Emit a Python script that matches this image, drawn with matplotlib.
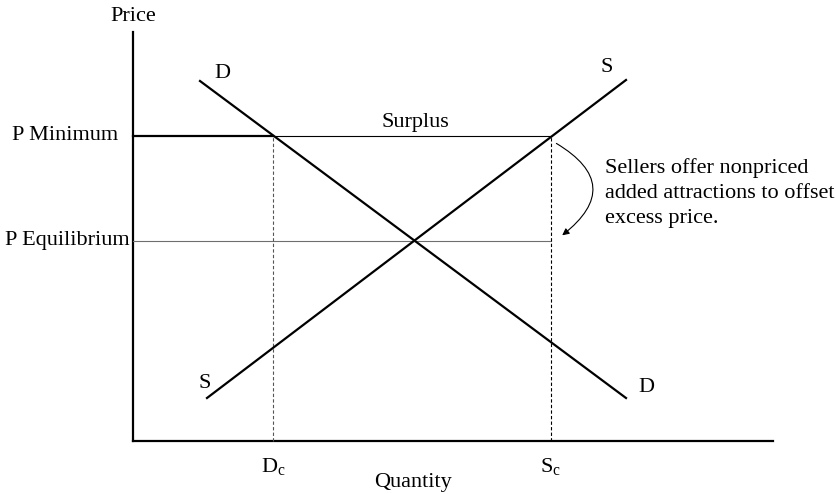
import matplotlib.pyplot as plt
from matplotlib.patches import FancyArrowPatch

plt.rcParams["font.family"] = ["Liberation Serif", "DejaVu Serif"]

# coordinates: quantity to the right, price upward, origin at the axes corner
demand_q = [67, 493]
demand_p = [360, 43]
supply_q = [74, 493]
supply_p = [43, 361]
p_minimum = 305
p_equilibrium = 200
q_demanded = 140   # D_c
q_supplied = 418   # S_c
axis_q_max = 640
axis_p_max = 409

price_labels = ["P Minimum", "P Equilibrium"]
price_values = [p_minimum, p_equilibrium]
note = "Sellers offer nonpriced\nadded attractions to offset\nexcess price."

fig = plt.figure(figsize=(8.37, 4.94), dpi=100)
ax = fig.add_axes([0, 0, 1, 1])
ax.set_xlim(-133, 704)
ax.set_ylim(-53, 441)
ax.axis("off")

FS = 16
lw_thick, lw_thin = 1.6, 0.8

# axes
ax.plot([0, 0], [0, axis_p_max], color="black", lw=lw_thick)
ax.plot([0, axis_q_max], [0, 0], color="black", lw=lw_thick)
ax.text(0, axis_p_max + 15, "Price", ha="center", va="center", fontsize=FS)
ax.text(280, -41, "Quantity", ha="center", va="center", fontsize=FS)

# price floor and equilibrium
ax.plot([0, q_demanded], [p_minimum, p_minimum], color="black", lw=lw_thick)
ax.plot([q_demanded, q_supplied], [p_minimum, p_minimum], color="black", lw=lw_thin)
ax.plot([0, q_supplied], [p_equilibrium, p_equilibrium], color="#6e6e6e", lw=lw_thin)
for lbl, val, gap in zip(price_labels, price_values, [15, 3]):
    ax.text(-gap, val, lbl, ha="right", va="center", fontsize=FS)

# quantities
ax.plot([q_demanded, q_demanded], [0, p_minimum], color="#555555", lw=lw_thin, ls=(0, (3, 2)))
ax.plot([q_supplied, q_supplied], [0, p_minimum], color="black", lw=lw_thin, ls=(0, (3, 2)))
ax.text(q_demanded, -26, "D$_\\mathregular{c}$", ha="center", va="center", fontsize=FS)
ax.text(q_supplied, -26, "S$_\\mathregular{c}$", ha="center", va="center", fontsize=FS)

# curves
ax.plot(demand_q, demand_p, color="black", lw=lw_thick)
ax.plot(supply_q, supply_p, color="black", lw=lw_thick)
ax.text(89, 368, "D", ha="center", va="center", fontsize=FS)
ax.text(513, 53, "D", ha="center", va="center", fontsize=FS)
ax.text(72, 57, "S", ha="center", va="center", fontsize=FS)
ax.text(474, 374, "S", ha="center", va="center", fontsize=FS)

ax.text(282, 319, "Surplus", ha="center", va="center", fontsize=FS)

# note with curved arrow
ax.text(472, 248, note, ha="left", va="center", fontsize=FS, linespacing=1.4)
arrow = FancyArrowPatch((q_supplied + 3, p_minimum - 6), (q_supplied + 9, p_equilibrium + 4),
                        connectionstyle="arc3,rad=-0.75", arrowstyle="-|>",
                        mutation_scale=10, color="black", lw=0.8)
ax.add_patch(arrow)

fig.savefig("out.png", dpi=100, facecolor="white")
